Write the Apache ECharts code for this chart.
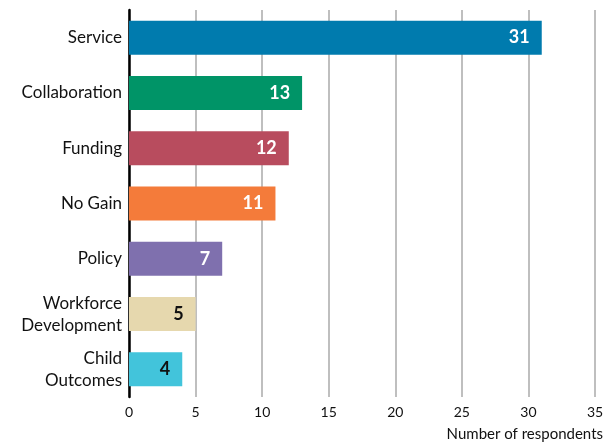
<!DOCTYPE html>
<html>
<head>
<meta charset="utf-8">
<script src="https://cdn.jsdelivr.net/npm/echarts@6/dist/echarts.min.js"></script>
<style>
  html, body { margin: 0; padding: 0; background: #fff; }
  #chart { width: 613px; height: 443px; }
</style>
</head>
<body>
<div id="chart"></div>
<script>
// Reasons given, top to bottom
const categories = ['Service', 'Collaboration', 'Funding', 'No Gain', 'Policy', 'Workforce\nDevelopment', 'Child\nOutcomes'];
const respondents = [31, 13, 12, 11, 7, 5, 4];
const barColors = ['#007BAE', '#009467', '#B84C5E', '#F47B3A', '#7F70AE', '#E6D8AE', '#42C4DB'];
const labelColors = ['#fff', '#fff', '#fff', '#fff', '#fff', '#111', '#111'];
const xTicks = [0, 5, 10, 15, 20, 25, 30, 35];

const font = 'Lato, "Open Sans", sans-serif';

const chart = echarts.init(document.getElementById('chart'));
chart.setOption({
  animation: false,
  grid: { left: 129, right: 18, top: 10, bottom: 46, containLabel: false },
  xAxis: {
    type: 'value',
    min: xTicks[0],
    max: xTicks[xTicks.length - 1],
    interval: 5,
    name: 'Number of respondents',
    nameLocation: 'end',
    nameGap: 8,
    nameTextStyle: { fontFamily: font, fontSize: 15, color: '#111', align: 'right', verticalAlign: 'top', padding: [30, 0, 0, 0] },
    axisLine: { show: false },
    axisTick: { show: false },
    axisLabel: { fontFamily: font, fontSize: 14, color: '#111', margin: 8 },
    splitLine: { show: true, lineStyle: { color: '#aaa', width: 1.5 } }
  },
  yAxis: {
    type: 'category',
    inverse: true,
    data: categories,
    axisLine: { show: true, lineStyle: { color: '#000', width: 2.5 } },
    axisTick: { show: false },
    axisLabel: { fontFamily: font, fontSize: 17, color: '#111', margin: 7, lineHeight: 22, align: 'right' }
  },
  series: [{
    type: 'bar',
    barWidth: 34,
    data: respondents.map((v, i) => ({
      value: v,
      itemStyle: { color: barColors[i] },
      label: { color: labelColors[i] }
    })),
    label: {
      show: true,
      position: 'insideRight',
      distance: 12,
      fontFamily: font,
      fontSize: 18,
      fontWeight: 'bold'
    }
  }]
});
</script>
</body>
</html>
